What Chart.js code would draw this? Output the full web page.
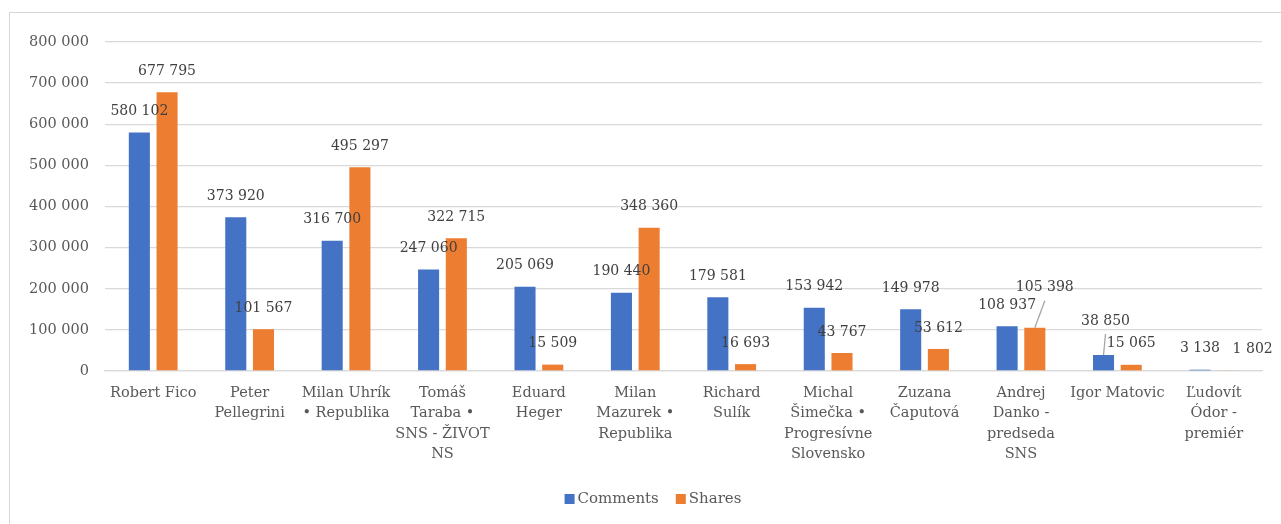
<!DOCTYPE html>
<html>
<head>
<meta charset="utf-8">
<script src="https://cdn.jsdelivr.net/npm/chart.js@4/dist/chart.umd.min.js"></script>
<style>
  body { margin: 0; background: #fff; }
  #wrap { position: relative; width: 1281px; height: 524px; overflow: hidden; }
  #frame { position: absolute; left: 9px; top: 12px; width: 1300px; height: 600px; border: 1px solid #d6d6d6; }
  #chart { position: absolute; left: 0; top: 0; }
</style>
</head>
<body>
<div id="wrap">
  <div id="frame"></div>
  <canvas id="chart" width="1281" height="524"></canvas>
</div>
<script>
// categories, wrapped the way the axis shows them
const names = [
    ["Robert Fico"],
    ["Peter", "Pellegrini"],
    ["Milan Uhrík", "• Republika"],
    ["Tomáš", "Taraba •", "SNS - ŽIVOT", "NS"],
    ["Eduard", "Heger"],
    ["Milan", "Mazurek •", "Republika"],
    ["Richard", "Sulík"],
    ["Michal", "Šimečka •", "Progresívne", "Slovensko"],
    ["Zuzana", "Čaputová"],
    ["Andrej", "Danko -", "predseda", "SNS"],
    ["Igor Matovic"],
    ["Ľudovít", "Ódor -", "premiér"]
];
const comments = [580102, 373920, 316700, 247060, 205069, 190440, 179581, 153942, 149978, 108937, 38850, 3138];
const shares = [677795, 101567, 495297, 322715, 15509, 348360, 16693, 43767, 53612, 105398, 15065, 1802];
const yTicks = [0, 100000, 200000, 300000, 400000, 500000, 600000, 700000, 800000];

// labels that were moved off their bar (series, index, dx, dy, leader line)
const labelMoves = [
    [0, 10, 2, -13, true],
    [1, 9, 10, -19, true],
    [1, 11, 25, 0, false]
];

const FONT = "'DejaVu Serif', serif";

function fmt(v)
{
    return String(v).replace(/\B(?=(\d{3})+(?!\d))/g, " ");
}

const valueLabels = {
    id: "valueLabels",
    afterDatasetsDraw(chart) {
        const ctx = chart.ctx;
        ctx.save();
        ctx.font = "14px " + FONT;
        ctx.textAlign = "center";
        ctx.textBaseline = "middle";
        chart.data.datasets.forEach((ds, di) => {
            const meta = chart.getDatasetMeta(di);
            meta.data.forEach((bar, i) => {
                let dx = 0, dy = 0, leader = false;
                labelMoves.forEach(m => {
                    if (m[0] === di && m[1] === i) { dx = m[2]; dy = m[3]; leader = m[4]; }
                });
                const x = bar.x + dx;
                const y = bar.y - 21 + dy;
                if (leader) {
                    ctx.strokeStyle = "#a6a6a6";
                    ctx.lineWidth = 1.3;
                    ctx.beginPath();
                    ctx.moveTo(bar.x, bar.y);
                    ctx.lineTo(x, y + 13);
                    ctx.stroke();
                }
                ctx.fillStyle = "#404040";
                ctx.fillText(fmt(ds.data[i]), x, y);
            });
        });
        ctx.restore();
    }
};

// legend drawn by hand so the box/text spacing matches
const bottomLegend = {
    id: "bottomLegend",
    afterDraw(chart) {
        const ctx = chart.ctx;
        ctx.save();
        ctx.font = "15px " + FONT;
        ctx.textBaseline = "middle";
        const items = chart.data.datasets.map(ds => ({
            text: ds.label, color: ds.backgroundColor, w: 13 + ctx.measureText(ds.label).width
        }));
        const gap = 17;
        let total = items.reduce((s, it) => s + it.w, 0) + gap * (items.length - 1);
        let x = 653 - total / 2;
        const y = 499;
        items.forEach(it => {
            ctx.fillStyle = it.color;
            ctx.fillRect(x, y - 5, 10, 10);
            ctx.fillStyle = "#595959";
            ctx.fillText(it.text, x + 13, y);
            x += it.w + gap;
        });
        ctx.restore();
    }
};

new Chart(document.getElementById("chart"), {
    type: "bar",
    data: {
        labels: names,
        datasets: [
            { label: "Comments", data: comments, backgroundColor: "#4472C4" },
            { label: "Shares", data: shares, backgroundColor: "#ED7D31" }
        ]
    },
    options: {
        responsive: false,
        animation: false,
        layout: { padding: { left: 0, top: 42, right: 19, bottom: 53 } },
        datasets: { bar: { categoryPercentage: 0.575, barPercentage: 0.76 } },
        plugins: {
            legend: { display: false },
            tooltip: { enabled: false }
        },
        scales: {
            x: {
                grid: { display: false, drawTicks: false },
                border: { color: "#d9d9d9", width: 1.3 },
                ticks: {
                    color: "#595959",
                    font: { family: FONT, size: 14.5, lineHeight: 1.4 },
                    padding: 12,
                    maxRotation: 0,
                    autoSkip: false
                },
                afterFit(axis) { axis.height = 100; }
            },
            y: {
                min: 0,
                max: 800000,
                afterBuildTicks(axis) { axis.ticks = yTicks.map(v => ({ value: v })); },
                grid: { color: "#d9d9d9", lineWidth: 1.3, drawTicks: false },
                border: { display: false },
                ticks: {
                    color: "#595959",
                    font: { family: FONT, size: 14.5 },
                    padding: 16,
                    callback: v => fmt(v)
                },
                afterFit(axis) { axis.width = 105; }
            }
        }
    },
    plugins: [valueLabels, bottomLegend]
});
</script>
</body>
</html>
